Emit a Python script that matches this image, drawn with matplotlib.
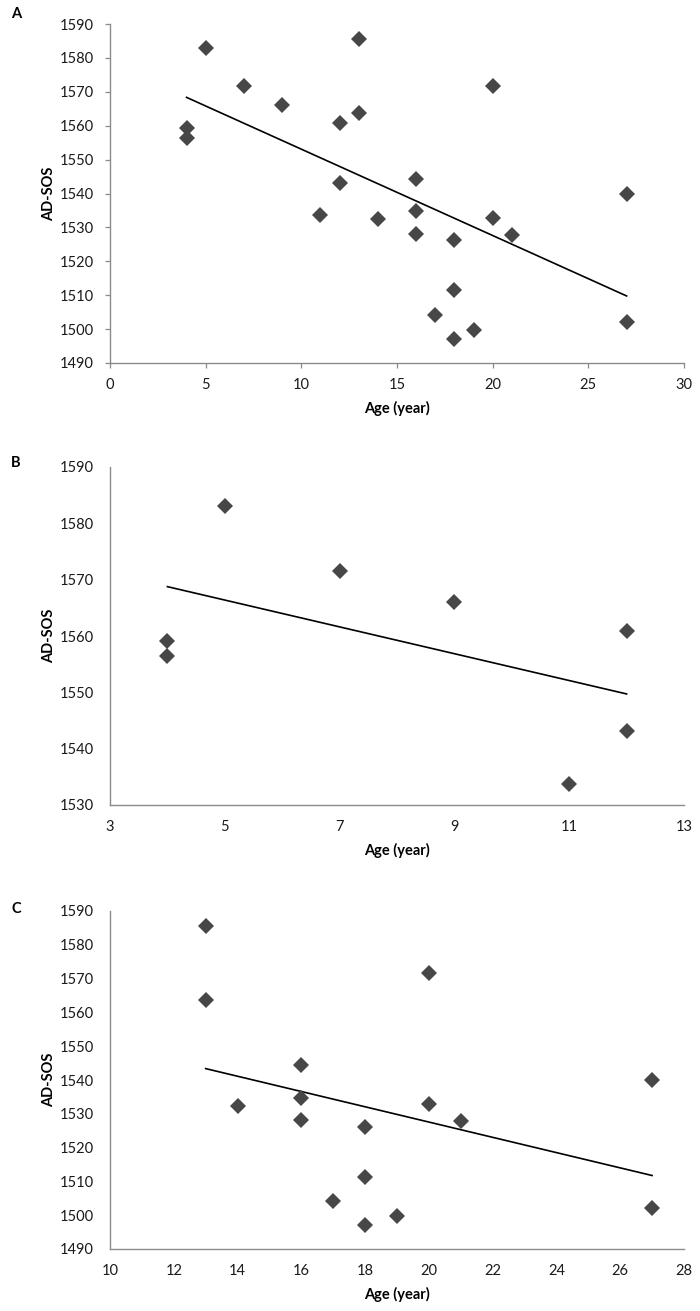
"""AD-SOS versus age scatter panels with linear trend lines."""

from __future__ import annotations

import matplotlib

matplotlib.use("Agg")
import matplotlib.pyplot as plt
import numpy as np

# Panel B: younger group (age <= 12)
AGE_YOUNG = [4, 4, 5, 7, 9, 12, 12, 11]
SOS_YOUNG = [1559.2, 1556.4, 1583.0, 1571.6, 1566.0, 1560.8, 1543.1, 1533.8]

# Panel C: older group (age >= 13)
AGE_OLD = [13, 13, 14, 16, 16, 16, 17, 18, 18, 18, 19, 20, 20, 21, 27, 27]
SOS_OLD = [
    1585.7, 1563.6, 1532.4, 1544.4, 1534.8, 1528.2, 1504.1, 1526.2,
    1511.4, 1497.0, 1499.8, 1571.7, 1532.8, 1527.8, 1539.9, 1502.1,
]

PANEL_LABELS = ["A", "B", "C"]
X_LIMITS = [(0, 30), (3, 13), (10, 28)]
X_STEPS = [5, 2, 2]
Y_LIMITS = [(1490, 1590), (1530, 1590), (1490, 1590)]

MARKER_COLOR = "#474747"
AXIS_COLOR = "#8a8a8a"
FONT = ["Lato", "DejaVu Sans"]
FONT_SIZE = 10.5


def draw_panel(ax, ages, sos, label, label_y, xlim, xstep, ylim, with_ticks):
    ages = np.asarray(ages, dtype=float)
    sos = np.asarray(sos, dtype=float)
    slope, intercept = np.polyfit(ages, sos, 1)
    xfit = np.array([ages.min(), ages.max()])
    ax.plot(xfit, slope * xfit + intercept, color="black", linewidth=1.2, zorder=2)
    ax.plot(ages, sos, linestyle="none", marker="D", markersize=8,
            color=MARKER_COLOR, markeredgewidth=0, zorder=3)

    ax.set_xlim(*xlim)
    ax.set_ylim(*ylim)
    ax.set_xticks(np.arange(xlim[0], xlim[1] + 0.1, xstep))
    ax.set_yticks(np.arange(ylim[0], ylim[1] + 0.1, 10))
    for side in ("top", "right"):
        ax.spines[side].set_visible(False)
    for side in ("left", "bottom"):
        ax.spines[side].set_color(AXIS_COLOR)
        ax.spines[side].set_linewidth(1.0)

    if with_ticks:
        ax.tick_params(axis="both", direction="out", length=3.5, width=0.9,
                       color=AXIS_COLOR, labelsize=FONT_SIZE)
        ax.tick_params(axis="x", pad=7.5)
        ax.tick_params(axis="y", pad=8)
    else:
        ax.tick_params(axis="both", length=0, labelsize=FONT_SIZE)
        ax.tick_params(axis="x", pad=11)
        ax.tick_params(axis="y", pad=11.5)
    for tick in ax.get_xticklabels() + ax.get_yticklabels():
        tick.set_family(FONT)
        tick.set_color("#1a1a1a")

    ax.set_xlabel("Age (year)", fontsize=FONT_SIZE, fontweight="bold", family=FONT,
                  labelpad=6.5)
    ax.set_ylabel("AD-SOS", fontsize=FONT_SIZE, fontweight="bold", family=FONT,
                  labelpad=2.5)
    ax.text(-0.172, label_y, label, transform=ax.transAxes, fontsize=10.5,
            fontweight="bold", family=FONT, ha="left", va="center")


def main() -> None:
    fig = plt.figure(figsize=(7.0, 13.11), dpi=100)
    left, width = 110 / 700, 574 / 700
    boxes = [(24, 363), (467, 805), (911, 1249)]
    letter_y = [1.03, 1.012, 1.006]
    all_ages = AGE_YOUNG + AGE_OLD
    all_sos = SOS_YOUNG + SOS_OLD
    datasets = [(all_ages, all_sos), (AGE_YOUNG, SOS_YOUNG), (AGE_OLD, SOS_OLD)]

    for i, (top, bottom) in enumerate(boxes):
        ax = fig.add_axes([left, 1 - bottom / 1311, width, (bottom - top) / 1311])
        ages, sos = datasets[i]
        draw_panel(ax, ages, sos, PANEL_LABELS[i], letter_y[i], X_LIMITS[i],
                   X_STEPS[i], Y_LIMITS[i], with_ticks=(i == 0))

    fig.savefig("out.png", dpi=100, facecolor="white")
    plt.close(fig)


if __name__ == "__main__":
    main()
